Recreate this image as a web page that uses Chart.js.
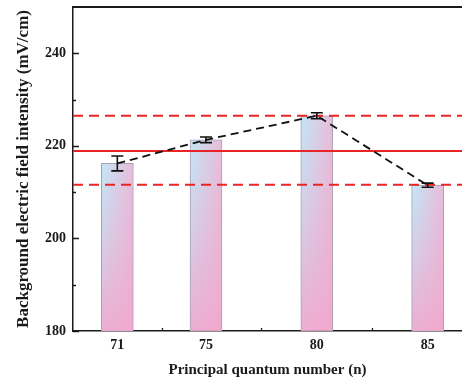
<!DOCTYPE html>
<html>
<head>
<meta charset="utf-8">
<script src="https://cdn.jsdelivr.net/npm/chart.js@4.4.1/dist/chart.umd.min.js"></script>
<style>
  html, body { margin: 0; padding: 0; background: #fff; }
  #wrap { width: 462px; height: 381px; }
</style>
</head>
<body>
<div id="wrap"><canvas id="fieldChart"></canvas></div>
<script>
// principal quantum number n and measured background field (mV/cm)
const nValues = [71, 75, 80, 85];
const fieldValues = [216.2, 221.3, 226.5, 211.5];
const fieldErrors = [1.6, 0.6, 0.65, 0.45];

// reference lines: mean (solid) and upper/lower bounds (dashed)
const meanLine = 218.9;
const upperLine = 226.5;
const lowerLine = 211.6;

const yLabelTicks = [180, 200, 220, 240];
const yMinorTicks = [190, 210, 230];
const xMinorTicks = [73, 77.5, 82.5];

const X_MIN = 69, X_MAX = 86.55;
const Y_MIN = 180, Y_MAX = 250;

const RED = "rgb(232, 36, 36)";
const INK = "#1a1a1a";
const serif = (size) => ({ family: "'Liberation Serif', 'Times New Roman', serif", size, weight: "bold" });

// blue -> pink fill, scaled onto each bar
const barImg = (() => {
    const off = document.createElement("canvas");
    off.width = 32; off.height = 160;
    const g = off.getContext("2d");
    const horiz = g.createLinearGradient(0, 0, 32, 0);
    horiz.addColorStop(0, "#c2e7f7");
    horiz.addColorStop(1, "#e8bcd9");
    g.fillStyle = horiz;
    g.fillRect(0, 0, 32, 160);
    const vert = g.createLinearGradient(0, 0, 0, 160);
    vert.addColorStop(0, "rgba(242,166,204,0)");
    vert.addColorStop(0.45, "rgba(242,166,204,0.35)");
    vert.addColorStop(1, "rgba(242,166,204,0.88)");
    g.fillStyle = vert;
    g.fillRect(0, 0, 32, 160);
    return off;
})();

const barFill = (ctx) => {
    const chart = ctx.chart;
    const { chartArea, scales } = chart;
    if (!chartArea || ctx.dataIndex === undefined || !scales.x) return "#d8c8e6";
    const px = scales.x.getPixelForValue(nValues[ctx.dataIndex]);
    const top = scales.y.getPixelForValue(fieldValues[ctx.dataIndex]);
    const pat = chart.ctx.createPattern(barImg, "no-repeat");
    pat.setTransform(new DOMMatrix().translate(px - 16, top).scale(1, (chartArea.bottom - top) / 160));
    return pat;
};

const hLine = (value, dashed) => ({
    type: "line",
    data: [{ x: X_MIN, y: value }, { x: X_MAX, y: value }],
    borderColor: RED,
    borderWidth: 1.9,
    borderDash: dashed ? [10, 6] : [],
    pointRadius: 0,
    order: 2
});

const axisExtras = {
    id: "axisExtras",
    beforeDatasetsDraw(chart) {
        const { ctx, chartArea: a, scales: { x, y } } = chart;
        ctx.save();
        ctx.strokeStyle = INK;
        ctx.lineWidth = 1.3;
        ctx.beginPath();
        yLabelTicks.forEach(v => {
            const py = Math.round(y.getPixelForValue(v)) + 0.5;
            ctx.moveTo(a.left, py); ctx.lineTo(a.left + 6, py);
        });
        yMinorTicks.forEach(v => {
            const py = Math.round(y.getPixelForValue(v)) + 0.5;
            ctx.moveTo(a.left, py); ctx.lineTo(a.left + 3, py);
        });
        xMinorTicks.forEach(v => {
            const px = Math.round(x.getPixelForValue(v)) + 0.5;
            ctx.moveTo(px, a.bottom); ctx.lineTo(px, a.bottom - 3);
        });
        ctx.stroke();
        // top frame line
        ctx.lineWidth = 2;
        ctx.beginPath();
        ctx.moveTo(a.left, a.top);
        ctx.lineTo(a.right, a.top);
        ctx.stroke();
        ctx.restore();
    },
    afterDatasetsDraw(chart) {
        const { ctx, scales: { x, y } } = chart;
        ctx.save();
        ctx.strokeStyle = "#111";
        ctx.lineWidth = 1.6;
        nValues.forEach((n, i) => {
            const px = x.getPixelForValue(n);
            const hi = y.getPixelForValue(fieldValues[i] + fieldErrors[i]);
            const lo = y.getPixelForValue(fieldValues[i] - fieldErrors[i]);
            ctx.beginPath();
            ctx.moveTo(px, hi); ctx.lineTo(px, lo);
            ctx.moveTo(px - 6, hi); ctx.lineTo(px + 6, hi);
            ctx.moveTo(px - 6, lo); ctx.lineTo(px + 6, lo);
            ctx.stroke();
        });
        ctx.restore();
    }
};

const points = nValues.map((n, i) => ({ x: n, y: fieldValues[i] }));

new Chart(document.getElementById("fieldChart").getContext("2d"), {
    data: {
        datasets: [
            {
                type: "line",
                data: points,
                borderColor: "#111",
                borderWidth: 1.8,
                borderDash: [8, 5],
                pointRadius: 0,
                fill: false,
                order: 1
            },
            hLine(meanLine, false),
            hLine(upperLine, true),
            hLine(lowerLine, true),
            {
                type: "bar",
                data: points,
                backgroundColor: barFill,
                borderColor: "#a7a0b6",
                borderWidth: 1,
                barThickness: 32,
                order: 3
            }
        ]
    },
    options: {
        responsive: true,
        maintainAspectRatio: false,
        animation: false,
        layout: { padding: { top: 7, right: 0, left: 0, bottom: 0 } },
        plugins: { legend: { display: false }, tooltip: { enabled: false } },
        scales: {
            x: {
                type: "linear",
                min: X_MIN,
                max: X_MAX,
                offset: false,
                afterBuildTicks: (s) => { s.ticks = nValues.map(v => ({ value: v })); },
                afterFit: (s) => { s.height = 50; s.paddingLeft = 0; s.paddingRight = 0; },
                grid: { display: false, drawTicks: false },
                border: { display: true, color: INK, width: 1.5 },
                ticks: { color: INK, font: serif(14), padding: 6, maxRotation: 0, autoSkip: false },
                title: {
                    display: true,
                    text: "Principal quantum number (n)",
                    color: INK,
                    font: serif(15),
                    padding: { top: 0, bottom: 2 }
                }
            },
            y: {
                min: Y_MIN,
                max: Y_MAX,
                afterBuildTicks: (s) => { s.ticks = yLabelTicks.map(v => ({ value: v })); },
                afterFit: (s) => { s.width = 73; s.paddingTop = 0; s.paddingBottom = 0; },
                grid: { display: false, drawTicks: false },
                border: { display: true, color: INK, width: 1.5 },
                ticks: { color: INK, font: serif(14), padding: 7 },
                title: {
                    display: true,
                    text: "Background electric field intensity (mV/cm)",
                    color: INK,
                    font: serif(17),
                    padding: { top: 13, bottom: 0 }
                }
            }
        }
    },
    plugins: [axisExtras]
});
</script>
</body>
</html>
